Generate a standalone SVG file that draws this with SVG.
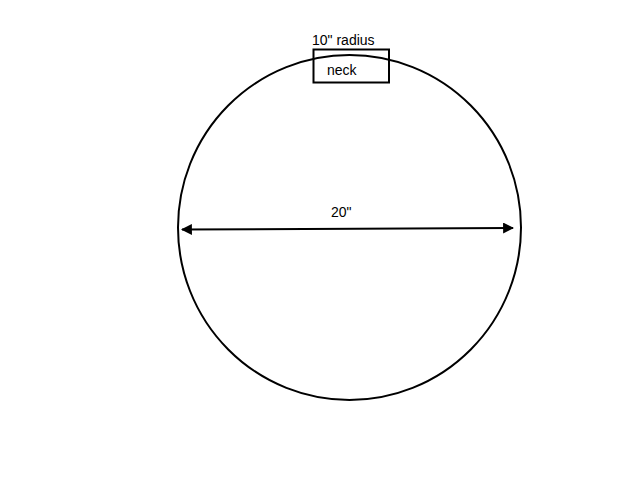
<svg xmlns="http://www.w3.org/2000/svg" width="640" height="480" viewBox="0 0 640 480">
<style>
.l{fill:none;stroke:#000;stroke-width:2}
.t{font-family:"Liberation Sans",Arial,sans-serif;font-size:14px;fill:#000}
</style>
<defs>
<marker id="ah" viewBox="0 0 10 10" refX="9" refY="5" markerWidth="5.5" markerHeight="5.5" orient="auto-start-reverse" markerUnits="strokeWidth">
<path d="M0,0 L10,5 L0,10 z" fill="#000"/>
</marker>
</defs>
<rect width="640" height="480" fill="#fff"/>
<g id="circle"><ellipse class="l" cx="349.5" cy="227.5" rx="171.5" ry="172.5"/></g>
<g id="neck"><rect class="l" x="313.5" y="49.5" width="75.5" height="33"/><text class="t" x="327" y="75">neck</text></g>
<g id="radius-label"><text class="t" x="312" y="45">10" radius</text></g>
<g id="connectors"><line class="l" x1="182" y1="229.5" x2="513" y2="228" marker-start="url(#ah)" marker-end="url(#ah)"/></g>
<g id="diameter-label"><text class="t" x="331" y="217">20"</text></g>
</svg>
